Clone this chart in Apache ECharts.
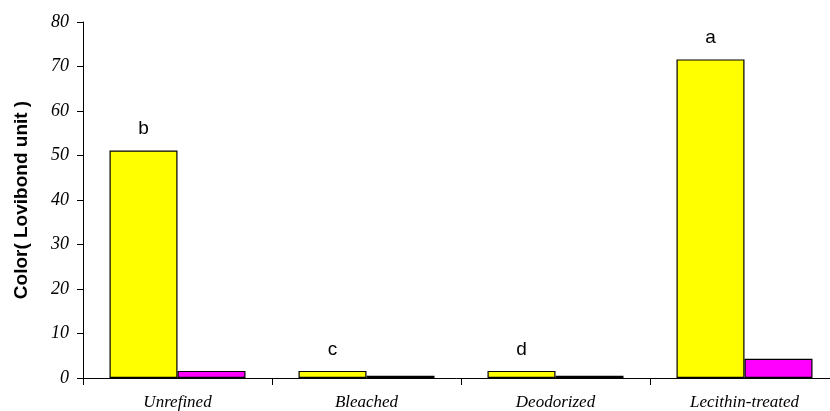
<!DOCTYPE html>
<html>
<head>
<meta charset="utf-8">
<script src="https://cdn.jsdelivr.net/npm/echarts@6/dist/echarts.min.js"></script>
<style>html,body{margin:0;padding:0;background:#fff}#c{width:830px;height:411px}</style>
</head>
<body>
<div id="c"></div>
<script>
const categories = ['Unrefined', 'Bleached', 'Deodorized', 'Lecithin-treated'];
const yellowValues = [51.1, 1.6, 1.6, 71.6];
const magentaValues = [1.6, 0.5, 0.5, 4.3];
const letters = ['b', 'c', 'd', 'a'];
const yTicks = [0, 10, 20, 30, 40, 50, 60, 70, 80];

const chart = echarts.init(document.getElementById('c'), null, {renderer: 'canvas'});
chart.setOption({
  animation: false,
  backgroundColor: '#fff',
  grid: {left: 83, top: 22, width: 756, height: 356, containLabel: false, outerBoundsMode: 'none'},
  xAxis: {
    type: 'category',
    data: categories,
    axisLine: {lineStyle: {color: '#000', width: 1}},
    axisTick: {show: true, length: 7, lineStyle: {color: '#000'}, alignWithLabel: false},
    axisLabel: {fontFamily: 'Liberation Serif', fontStyle: 'italic', fontSize: 17, color: '#000', margin: 16}
  },
  yAxis: {
    type: 'value',
    min: yTicks[0], max: yTicks[yTicks.length - 1], interval: 10,
    name: 'Color( Lovibond unit )',
    nameLocation: 'middle',
    nameGap: 52,
    nameTextStyle: {fontFamily: 'Liberation Sans', fontWeight: 'bold', fontSize: 19, color: '#000'},
    axisLine: {show: true, lineStyle: {color: '#000', width: 1}},
    axisTick: {show: true, inside: false, length: 6, lineStyle: {color: '#000'}},
    splitLine: {show: false},
    axisLabel: {fontFamily: 'Liberation Serif', fontStyle: 'italic', fontSize: 18, color: '#000', margin: 14}
  },
  series: [
    {
      type: 'bar',
      data: yellowValues,
      barWidth: 68,
      barGap: '0%',
      itemStyle: {color: '#ffff00', borderColor: '#000', borderWidth: 1.2},
      label: {
        show: true, position: 'top', distance: 12,
        formatter: p => letters[p.dataIndex],
        fontFamily: 'Liberation Sans', fontSize: 19, color: '#000'
      }
    },
    {
      type: 'bar',
      data: magentaValues,
      barWidth: 68,
      barGap: '0%',
      itemStyle: {color: '#ff00ff', borderColor: '#000', borderWidth: 1.2}
    }
  ]
});
</script>
</body>
</html>
